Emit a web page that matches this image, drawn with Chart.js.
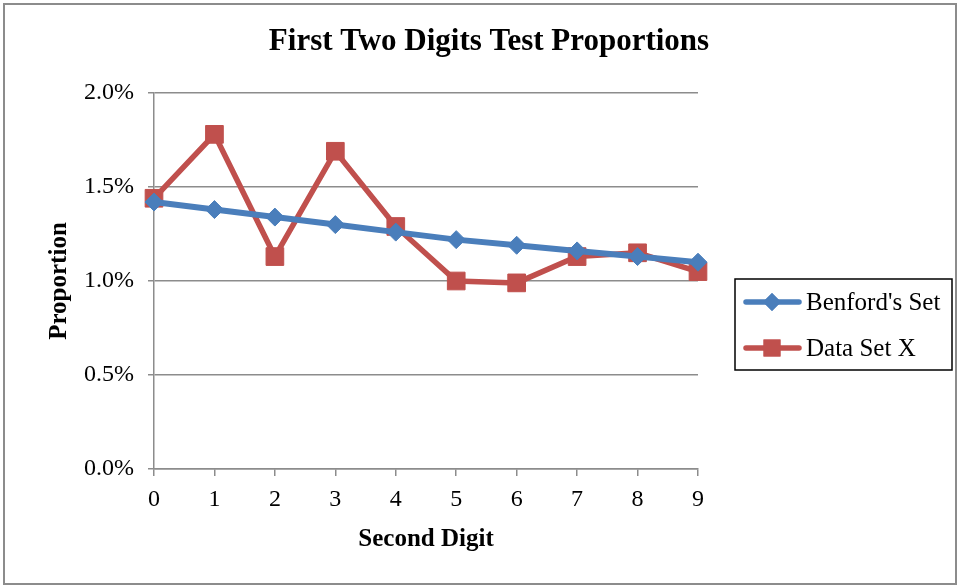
<!DOCTYPE html>
<html>
<head>
<meta charset="utf-8">
<script src="https://cdn.jsdelivr.net/npm/chart.js@4"></script>
<style>
    html, body { margin: 0; padding: 0; background: #fff; }
    #wrap { position: relative; width: 958px; height: 586px; }
    #frame {
        position: absolute; left: 3px; top: 3px; width: 950px; height: 578px;
        border: 2px solid #8c8c8c; pointer-events: none;
    }
    canvas { position: absolute; left: 0; top: 0; }
</style>
</head>
<body>
<div id="wrap">
    <canvas id="chart" width="958" height="586"></canvas>
    <div id="frame"></div>
</div>
<script>
const digits = ['0', '1', '2', '3', '4', '5', '6', '7', '8', '9'];
const benfordSet = [1.42, 1.38, 1.34, 1.30, 1.26, 1.22, 1.19, 1.16, 1.13, 1.10];
const dataSetX = [1.44, 1.78, 1.13, 1.69, 1.29, 1.00, 0.99, 1.13, 1.15, 1.05];
const yTicks = [0, 0.5, 1.0, 1.5, 2.0];

const FONT = "'Liberation Serif', 'DejaVu Serif', serif";
const BLUE = '#4a7ebb';
const RED = '#c0504d';
const GRID = '#8c8c8c';

// title and boxed legend, drawn on the canvas
const decorPlugin = {
    id: 'decor',
    afterDraw(chart) {
        const ctx = chart.ctx;
        ctx.save();
        ctx.fillStyle = '#000';
        ctx.font = `bold 31px ${FONT}`;
        ctx.textAlign = 'center';
        ctx.textBaseline = 'middle';
        ctx.fillText('First Two Digits Test Proportions', 489, 42);

        ctx.strokeStyle = '#000';
        ctx.lineWidth = 1.5;
        ctx.strokeRect(735, 279, 217, 91);

        const items = [
            { label: "Benford's Set", color: BLUE, style: 'rectRot', radius: 9, y: 302 },
            { label: 'Data Set X', color: RED, style: 'rect', radius: 12, y: 348 }
        ];
        items.forEach((item) => {
            ctx.strokeStyle = item.color;
            ctx.lineWidth = 5.5;
            ctx.lineCap = 'round';
            ctx.beginPath();
            ctx.moveTo(746, item.y);
            ctx.lineTo(799, item.y);
            ctx.stroke();
            ctx.fillStyle = item.color;
            Chart.helpers.drawPoint(ctx, { pointStyle: item.style, radius: item.radius, borderWidth: 0 }, 772, item.y);
            ctx.fill();
            ctx.fillStyle = '#000';
            ctx.font = `25px ${FONT}`;
            ctx.textAlign = 'left';
            ctx.fillText(item.label, 806, item.y + 1);
        });
        ctx.restore();
    }
};

new Chart(document.getElementById('chart'), {
    type: 'line',
    data: {
        labels: digits,
        datasets: [
            {
                label: "Benford's Set",
                data: benfordSet,
                borderColor: BLUE,
                backgroundColor: BLUE,
                borderWidth: 6,
                pointStyle: 'rectRot',
                pointRadius: 9,
                pointBorderWidth: 1,
                tension: 0
            },
            {
                label: 'Data Set X',
                data: dataSetX,
                borderColor: RED,
                backgroundColor: RED,
                borderWidth: 5.5,
                pointStyle: 'rect',
                pointRadius: 12.5,
                pointBorderWidth: 1,
                tension: 0
            }
        ]
    },
    options: {
        responsive: false,
        animation: false,
        layout: { padding: { top: 93, right: 260, bottom: 0, left: 0 } },
        plugins: {
            legend: { display: false },
            title: { display: false },
            tooltip: { enabled: false }
        },
        scales: {
            x: {
                offset: false,
                grid: { drawOnChartArea: false, drawTicks: true, tickLength: 7, color: GRID, lineWidth: 1.5 },
                border: { display: true, color: GRID, width: 1.5 },
                ticks: { color: '#000', font: { family: FONT, size: 24 }, padding: 9, maxRotation: 0 },
                title: {
                    display: true, text: 'Second Digit', color: '#000',
                    font: { family: FONT, size: 25, weight: 'bold' },
                    padding: { top: 0, bottom: 31 }
                },
                afterFit(scale) { scale.height = 117; }
            },
            y: {
                min: 0,
                max: 2,
                afterBuildTicks(scale) { scale.ticks = yTicks.map((v) => ({ value: v })); },
                grid: { color: GRID, lineWidth: 1.5, tickLength: 6 },
                border: { display: true, color: GRID, width: 1.5 },
                ticks: {
                    color: '#000', font: { family: FONT, size: 24 }, padding: 14,
                    callback: (v) => v.toFixed(1) + '%'
                },
                title: {
                    display: true, text: 'Proportion', color: '#000',
                    font: { family: FONT, size: 25, weight: 'bold' },
                    padding: { top: 45, bottom: 0 }
                },
                afterFit(scale) { scale.width = 154; }
            }
        }
    },
    plugins: [decorPlugin]
});
</script>
</body>
</html>
